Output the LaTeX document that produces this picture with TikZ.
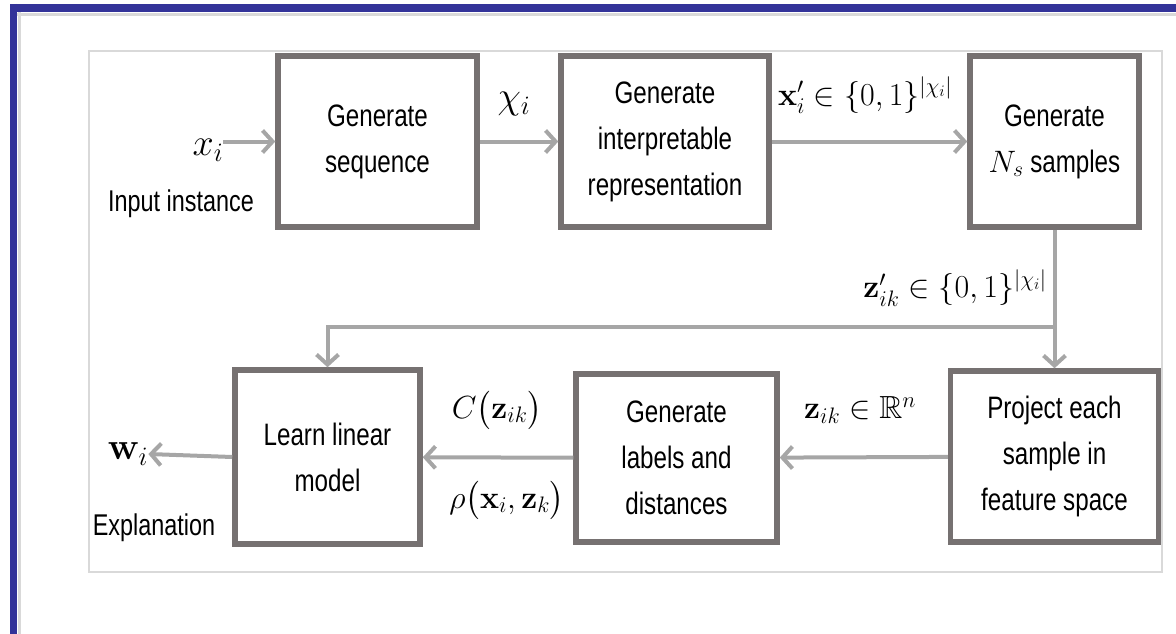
\RequirePackage{fix-cm}
\documentclass[tikz,border=0pt]{standalone}
\usepackage{amsmath,amssymb}
\usepackage[no-math]{fontspec}
\setmainfont{Liberation Sans}[FakeStretch=0.78]
\usetikzlibrary{positioning, arrows.meta, calc}
\definecolor{boxgray}{HTML}{767171}
\definecolor{linkgray}{HTML}{A6A6A6}
\definecolor{frameblue}{HTML}{333399}

\begin{document}
\begin{tikzpicture}[
    x=1pt, y=-1pt,
    box/.style={draw=boxgray, line width=5.5pt, rectangle, align=center, fill=white, inner sep=0pt, font=\fontsize{31}{46}\selectfont},
    link/.style={draw=linkgray, line width=4pt, -{Straight Barb[length=10pt, width=22pt]}},
    mathlbl/.style={inner sep=0pt, font=\fontsize{32}{38}\selectfont},
    symlbl/.style={inner sep=0pt, font=\fontsize{38}{42}\selectfont},
    txtlbl/.style={inner sep=0pt, font=\fontsize{30}{34}\selectfont}
]
    \useasboundingbox (0,0) rectangle (1176,634);

    % Page frame
    \draw[gray!30, line width=3pt] (14,15) -- (1176,15);
    \draw[gray!30, line width=3pt] (19,12) -- (19,634);
    \draw[frameblue, line width=8pt] (10,8) -- (1176,8);
    \draw[frameblue, line width=7pt] (13.5,4) -- (13.5,634);
    \draw[gray!30, line width=1.5pt] (89,51) rectangle (1162,572);

    % Top row
    \node[box, minimum width=199, minimum height=171] (seq) at (377.5,141.5) {Generate\\sequence};
    \node[box, minimum width=208, minimum height=171] (interp) at (665,141.5) {Generate\\interpretable\\representation};
    \node[box, minimum width=169, minimum height=171] (samp) at (1054.5,141.5) {Generate\\$N_s$ samples};

    % Bottom row
    \node[box, minimum width=185, minimum height=174] (learn) at (327.5,457) {Learn linear\\model};
    \node[box, minimum width=201, minimum height=168] (dist) at (676.5,458) {Generate\\labels and\\distances};
    \node[box, minimum width=208, minimum height=171] (proj) at (1054.5,456.5) {Project each\\sample in\\feature space};

    % Input and output
    \node[symlbl] (xin) at (208,150) {$x_i$};
    \node[txtlbl] (inlbl) at (181,204) {Input instance};
    \node[symlbl] (wout) at (128,454) {$\mathbf{w}_i$};
    \node[txtlbl] (outlbl) at (154,528) {Explanation};

    % Edge labels
    \node[symlbl] (chi) at (514,104) {$\chi_i$};
    \node[mathlbl] (xbin) at (865,95) {$\mathbf{x}'_i \in \{0,1\}^{|\chi_i|}$};
    \node[mathlbl] (zbin) at (955,288) {$\mathbf{z}'_{ik} \in \{0,1\}^{|\chi_i|}$};
    \node[mathlbl] (zreal) at (860,410) {$\mathbf{z}_{ik} \in \mathbb{R}^n$};
    \node[mathlbl] (cz) at (497,410) {$C\big(\mathbf{z}_{ik}\big)$};
    \node[mathlbl] (rho) at (507,500) {$\rho\big(\mathbf{x}_i, \mathbf{z}_k\big)$};

    % Connections
    \coordinate (split) at (1054.5,327);
    \draw[link] (xin.east |- seq.west) -- (seq.west);
    \draw[link] (seq) -- (interp);
    \draw[link] (interp) -- (samp);
    \draw[link] (samp.south) -- (split) -| (learn.north);
    \draw[link] (split) -- (proj.north);
    \draw[link] (proj) -- (dist);
    \draw[link] (dist) -- (learn);
    \draw[link] (learn.west) -- (wout.east);

\end{tikzpicture}
\end{document}
